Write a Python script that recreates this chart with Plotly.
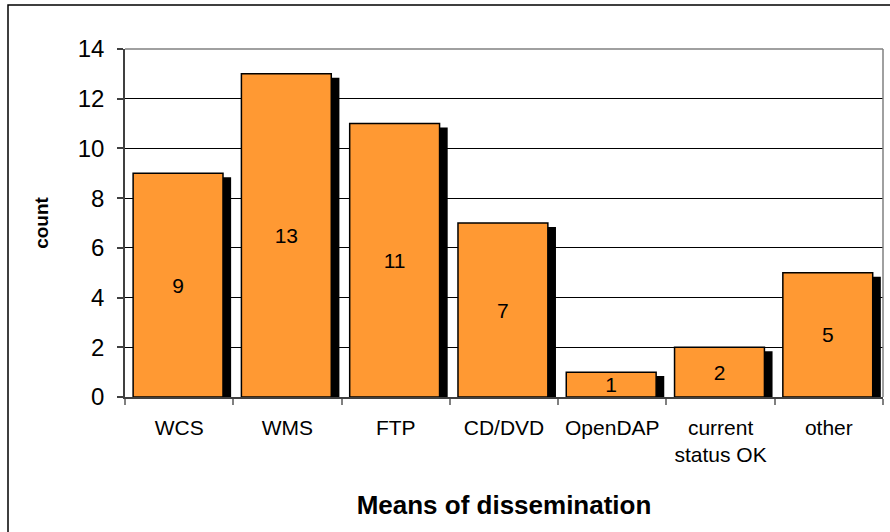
import plotly.graph_objects as go

categories = ["WCS", "WMS", "FTP", "CD/DVD", "OpenDAP", "current<br>status OK", "other"]
counts = [9, 13, 11, 7, 1, 2, 5]
y_ticks = [0, 2, 4, 6, 8, 10, 12, 14]

BAR_W = 0.83
SHADOW_DX = 0.065
SHADOW_DY = 0.16
ORANGE = "#FF9933"
FONT = "Liberation Sans, Arial, sans-serif"

fig = go.Figure()
# drop shadow
fig.add_trace(go.Bar(
    x=categories, y=[v - SHADOW_DY for v in counts],
    width=BAR_W, offset=-BAR_W / 2 + SHADOW_DX,
    marker=dict(color="black", line=dict(width=0)),
    hoverinfo="skip", showlegend=False,
))
# main bars
fig.add_trace(go.Bar(
    x=categories, y=counts,
    width=BAR_W, offset=-BAR_W / 2 - 0.01,
    marker=dict(color=ORANGE, line=dict(color="black", width=1.5)),
    text=[str(v) for v in counts], textposition="inside",
    insidetextanchor="middle", textangle=0, constraintext="none",
    textfont=dict(family=FONT, size=21, color="black"),
    showlegend=False,
))

fig.update_layout(
    width=890, height=532,
    margin=dict(l=125, r=7, t=49, b=135),
    paper_bgcolor="white", plot_bgcolor="white",
    barmode="overlay",
    font=dict(family=FONT, color="black"),
    shapes=[
        dict(type="rect", xref="paper", yref="paper",
             x0=(8 - 125) / 758, x1=1.05, y0=-0.5, y1=(397 - 5) / 348,
             line=dict(color="black", width=1.5), layer="below"),
        dict(type="line", xref="paper", yref="paper",
             x0=0, x1=1, y0=1, y1=1, line=dict(color="#808080", width=1.5)),
        dict(type="line", xref="paper", yref="paper",
             x0=1, x1=1, y0=0, y1=1, line=dict(color="#808080", width=1.5)),
    ],
    xaxis=dict(
        type="category", tickson="boundaries",
        ticks="outside", ticklen=6, tickcolor="#808080", tickwidth=1.5,
        showline=True, linecolor="#404040", linewidth=1.5,
        tickfont=dict(size=21), ticklabelstandoff=11,
        title=dict(text="<b>Means of dissemination</b>", font=dict(size=26), standoff=31),
        showgrid=False, range=[-0.5, 6.5],
    ),
    yaxis=dict(
        range=[0, 14], tickvals=y_ticks,
        ticks="outside", ticklen=6, tickcolor="#404040", tickwidth=1.5,
        showline=True, linecolor="#404040", linewidth=1.5,
        showgrid=True, gridcolor="black", gridwidth=1,
        tickfont=dict(size=24), ticklabelstandoff=8,
        title=dict(text="<b>count</b>", font=dict(size=19), standoff=24),
        zeroline=False,
    ),
)

fig.write_html("out.html", config={"displayModeBar": False},
               post_script="document.body.style.margin='0';document.body.style.overflow='hidden';")
